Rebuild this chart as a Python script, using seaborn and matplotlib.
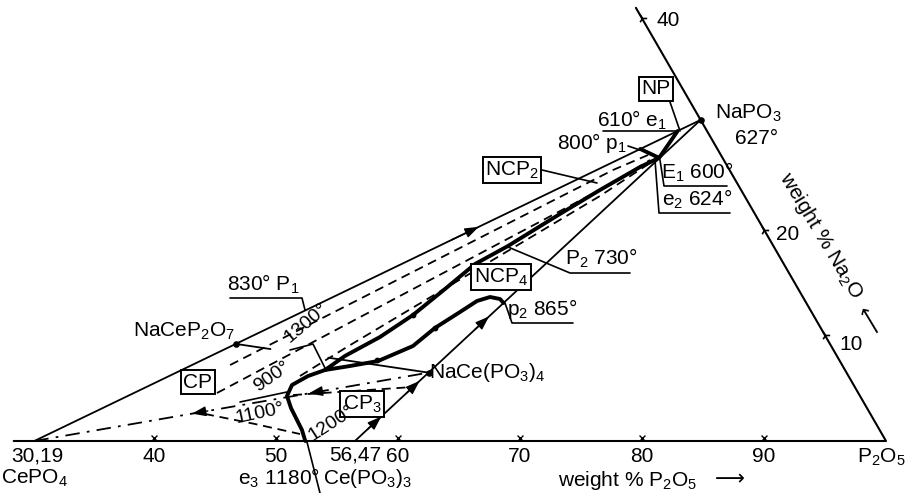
import numpy as np
import pandas as pd
import matplotlib
matplotlib.use("Agg")
import matplotlib.pyplot as plt
import seaborn as sns

# ---------------- data (wt% P2O5, wt% Na2O; remainder Ce2O3) ----------------
compounds = ["CePO4", "Ce(PO3)3", "NaPO3", "NaCeP2O7", "NaCe(PO3)4"]
comp_p2o5 = [30.19, 56.47, 69.61, 42.11, 59.27]
comp_na2o = [0.0, 0.0, 30.39, 9.19, 6.47]

frame_p2o5 = [28.5, 100.0, 59.0]
frame_na2o = [0.0, 0.0, 41.0]

base_ticks = [40, 50, 60, 70, 80, 90]
na2o_ticks = [10, 20, 40]

# liquidus boundary curves
e3_curve_p2o5 = [52.40, 51.61, 49.67, 48.77, 48.66, 49.55, 50.66]
e3_curve_na2o = [0.00, 1.04, 3.12, 4.26, 5.30, 6.15, 6.72]

upper_curve_p2o5 = [50.66, 51.63, 53.60, 55.27, 56.66, 57.94, 59.79, 62.53, 64.68, 66.87, 68.00, 68.25]
upper_curve_na2o = [6.72, 8.05, 9.84, 11.93, 14.39, 16.75, 18.46, 21.49, 23.76, 25.93, 26.80, 29.34]

p2_curve_p2o5 = [50.66, 52.52, 54.58, 56.73, 57.68, 58.98, 59.85, 60.73, 61.64, 62.12]
p2_curve_na2o = [6.72, 7.10, 7.57, 8.99, 10.70, 12.21, 13.25, 13.63, 13.44, 13.06]

p1_E1_p2o5 = [66.04, 68.00]
p1_E1_na2o = [27.64, 26.80]

# dashed paths
dash1_p2o5 = [42.64, 64.80, 66.96]
dash1_na2o = [7.19, 25.65, 27.07]
dash2_p2o5 = [42.89, 65.41, 67.36]
dash2_na2o = [4.54, 24.42, 26.60]
dash3_p2o5 = [48.89, 51.37, 64.96, 67.50]
dash3_na2o = [6.15, 8.90, 23.19, 26.31]
dash1100_p2o5 = [42.90, 47.47, 51.64]
dash1100_na2o = [2.56, 1.61, 0.66]
dashcp3_p2o5 = [49.22, 58.67]
dashcp3_na2o = [4.35, 5.11]

# marker dots on curves
dots_p2o5 = [54.40, 55.27, 57.68]
dots_na2o = [7.70, 11.93, 10.70]

# arrow positions (fraction along joins)
arrows_j1 = [0.647]
arrows_j2 = [0.056, 0.167, 0.368]
arrows_dd = [0.42, 0.716]

# ---------------- helpers ----------------
S3 = np.sqrt(3) / 2


def tern(p, n):
    p = np.asarray(p, float)
    n = np.asarray(n, float)
    return p + n / 2, n * S3


def pix(x, y):
    return 100 + (x - 886) / 12.2, (441 - y) / 12.2


def comp(name):
    i = compounds.index(name)
    return comp_p2o5[i], comp_na2o[i]


sns.set_theme(style="white")
plt.rcParams['font.family'] = ['Liberation Sans', 'DejaVu Sans']
plt.rcParams['mathtext.fontset'] = 'custom'
plt.rcParams['mathtext.rm'] = 'Liberation Sans'
plt.rcParams['mathtext.it'] = 'Liberation Sans:italic'
plt.rcParams['mathtext.bf'] = 'Liberation Sans:bold'

fig = plt.figure(figsize=(9.09, 4.93), dpi=100)
ax = fig.add_axes([0, 0, 1, 1])
x0, _ = pix(0, 0)
x1, _ = pix(909, 0)
_, y0 = pix(0, 493)
_, y1 = pix(0, 0)
ax.set_xlim(x0, x1)
ax.set_ylim(y0, y1)
ax.axis('off')

K = 'black'
THIN = 1.3
THICK = 2.8
DASH = (0, (5, 3.2))
DASHDOT = (0, (8, 4, 1.5, 4))


def line(p, n, lw=THIN, ls='-', **kw):
    x, y = tern(p, n)
    df = pd.DataFrame({'x': x, 'y': y})
    sns.lineplot(data=df, x='x', y='y', sort=False, estimator=None, color=K,
                 lw=lw, linestyle=ls, ax=ax, solid_capstyle='round', **kw)


def join(a, b, t0=0.0, t1=1.0, **kw):
    pa, na = comp(a)
    pb, nb = comp(b)
    p = [pa + (pb - pa) * t0, pa + (pb - pa) * t1]
    n = [na + (nb - na) * t0, na + (nb - na) * t1]
    line(p, n, **kw)


def arrow_on(a, b, t, reverse=False):
    pa, na = comp(a)
    pb, nb = comp(b)
    dt = 0.02
    t_tail, t_head = (t + dt, t - dt) if reverse else (t - dt, t + dt)
    xt, yt = tern(pa + (pb - pa) * t_tail, na + (nb - na) * t_tail)
    xh, yh = tern(pa + (pb - pa) * t_head, na + (nb - na) * t_head)
    ax.annotate('', xy=(xh, yh), xytext=(xt, yt),
                arrowprops=dict(arrowstyle='-|>,head_length=0.7,head_width=0.25',
                                color=K, lw=1.0, shrinkA=0, shrinkB=0))


# frame
line(frame_p2o5, frame_na2o, lw=1.5)

# joins
join("CePO4", "NaPO3")
join("Ce(PO3)3", "NaPO3")
join("NaCeP2O7", "NaCe(PO3)4", 0.0, 0.18)
join("NaCeP2O7", "NaCe(PO3)4", 0.48, 1.0)
join("CePO4", "NaCe(PO3)4", ls=DASHDOT)

for t in arrows_j1:
    arrow_on("CePO4", "NaPO3", t)
for t in arrows_j2:
    arrow_on("Ce(PO3)3", "NaPO3", t)
for t in arrows_dd:
    arrow_on("CePO4", "NaCe(PO3)4", t, reverse=True)

# boundary curves
line(e3_curve_p2o5, e3_curve_na2o, lw=THICK)
line(upper_curve_p2o5, upper_curve_na2o, lw=THICK)
line(p2_curve_p2o5, p2_curve_na2o, lw=THICK)
line(p1_E1_p2o5, p1_E1_na2o, lw=THICK)

# dashed lines
line(dash1_p2o5, dash1_na2o, ls=DASH)
line(dash2_p2o5, dash2_na2o, ls=DASH)
line(dash3_p2o5, dash3_na2o, ls=DASH)
line(dash1100_p2o5, dash1100_na2o, ls=DASH)
line(dashcp3_p2o5, dashcp3_na2o, ls=DASH)

# compound dots
cx, cy = tern(comp_p2o5[2:], comp_na2o[2:])
ax.scatter(cx, cy, s=14, color=K, zorder=5)
dx, dy = tern(dots_p2o5, dots_na2o)
ax.scatter(dx, dy, s=10, color=K, zorder=5)

# ticks
bx, by = tern(base_ticks, [0] * len(base_ticks))
ax.scatter(bx, by + 0.25, marker='x', s=18, color=K, lw=1.0, zorder=5)
rx, ry = tern([100 - v for v in na2o_ticks], na2o_ticks)
ax.scatter(rx, ry, marker='4', s=45, color=K, lw=1.2, zorder=5)

# ---------------- text ----------------
FS = 15


def txt(s, x, y, size=FS, rot=0, box=False, ha='center', va='center', **kw):
    X, Y = pix(x, y)
    bb = dict(boxstyle='square,pad=0.12', fc='white', ec=K, lw=1.4) if box else None
    ax.text(X, Y, s, fontsize=size, rotation=rot, ha=ha, va=va, bbox=bb,
            rotation_mode='anchor', color=K, zorder=6, **kw)


def lead(*pts, lw=1.2):
    xs, ys = zip(*[pix(x, y) for x, y in pts])
    ax.plot(xs, ys, color=K, lw=lw, zorder=4)


# base labels
for v in base_ticks:
    X, _ = tern(v, 0)
    ax.text(X, pix(0, 456)[1], str(v), fontsize=FS, ha='center', va='center', color=K)
txt("30,19", 37, 456)
txt("CePO$_4$", 34, 478)
txt("56,47", 355, 455)
txt("Ce(PO$_3$)$_3$", 368, 478)
txt("e$_3$ 1180°", 279, 478)
txt("P$_2$O$_5$", 881, 457)
txt("weight % P$_2$O$_5$", 628, 480)
txt("⟶", 730, 479, family='DejaVu Sans')

# Na2O axis labels
txt("40", 668, 21)
txt("20", 788, 234)
txt("10", 851, 344)
txt("weight % Na$_2$O", 821, 236, rot=-59)
txt("⟵", 868, 322, rot=-59, family='DejaVu Sans')

# labels near NaPO3
txt("NaPO$_3$", 748, 113)
txt("627°", 757, 139)
txt("NP", 656, 89, box=True)
lead((670, 102), (680, 131))
txt("610° e$_1$", 632, 120)
lead((603, 131), (678, 131))
txt("800° p$_1$", 592, 143)
lead((628, 146), (640, 150))
txt("NCP$_2$", 512, 170, box=True)
lead((542, 170), (597, 183))
txt("E$_1$ 600°", 697, 172)
lead((660, 160), (664, 186), (727, 186))
txt("e$_2$ 624°", 697, 199)
lead((655, 160), (659, 213), (730, 213))
txt("P$_2$ 730°", 601, 258)
lead((508, 247), (570, 273), (630, 273))
txt("NCP$_4$", 501, 277, box=True)
txt("p$_2$ 865°", 542, 309)
lead((505, 303), (512, 323), (573, 323))
txt("830° P$_1$", 263, 284)
lead((230, 298), (302, 298), (305, 310))
txt("NaCeP$_2$O$_7$", 184, 331)
txt("1300°", 287, 340, size=14, rot=40, ha='left')
lead((290, 350), (313, 344), (325, 368))
txt("NaCe(PO$_3$)$_4$", 487, 372)
txt("CP", 198, 382, box=True)
txt("900°", 256, 388, size=14, rot=35, ha='left')
lead((240, 402), (287, 392))
txt("1100°", 236, 419, size=14, rot=12, ha='left')
txt("CP$_3$", 362, 404, box=True)
txt("1200°", 310, 437, size=14, rot=33, ha='left')
lead((307, 442), (320, 493))

fig.savefig("out.png", dpi=100)
